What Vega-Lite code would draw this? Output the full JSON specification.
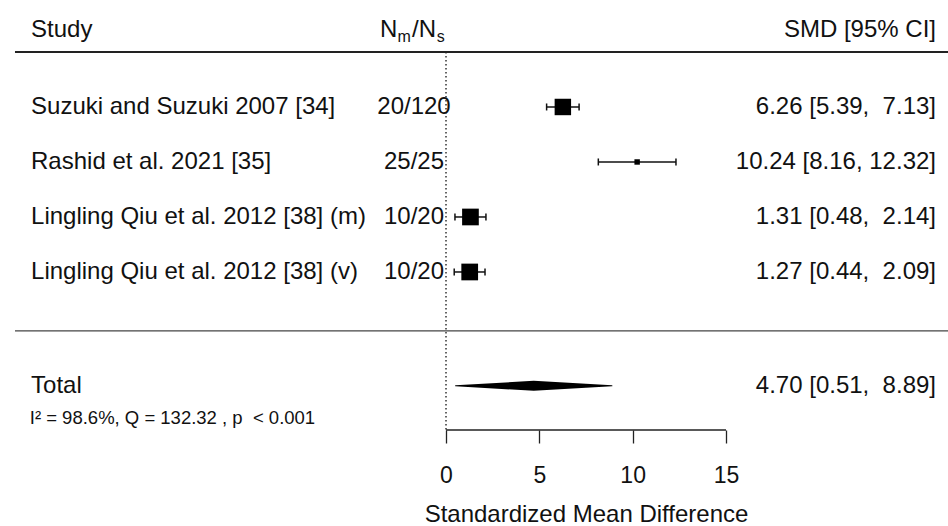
{
  "$schema": "https://vega.github.io/schema/vega-lite/v6.json",
  "width": 948,
  "height": 430,
  "autosize": "none",
  "padding": {"top": 0, "left": 0, "right": 0, "bottom": 96},
  "background": "white",
  "config": {
    "view": {"stroke": null},
    "font": "Liberation Sans",
    "text": {"font": "Liberation Sans", "fontSize": 24, "color": "#111"},
    "axis": {"grid": false},
    "axisX": {"domain": false, "grid": false, "tickSize": 13, "tickWidth": 1.3, "tickColor": "#222",
      "labelFont": "Liberation Sans", "labelFontSize": 23, "labelColor": "#111", "labelPadding": 21, "labelFlush": false,
      "titleFont": "Liberation Sans", "titleFontSize": 24, "titleFontWeight": "normal", "titleColor": "#111", "titlePadding": 15}
  },
  "datasets": {
    "studies": [
      {"study": "Suzuki and Suzuki 2007 [34]", "n": "20/120", "smd": 6.26, "lo": 5.39, "hi": 7.13, "label": "6.26 [5.39, \u00a07.13]", "row": 1, "se": 0.444},
      {"study": "Rashid et al. 2021 [35]", "n": "25/25", "smd": 10.24, "lo": 8.16, "hi": 12.32, "label": "10.24 [8.16, 12.32]", "row": 2, "se": 1.061},
      {"study": "Lingling Qiu et al. 2012 [38] (m)", "n": "10/20", "smd": 1.31, "lo": 0.48, "hi": 2.14, "label": "1.31 [0.48, \u00a02.14]", "row": 3, "se": 0.423},
      {"study": "Lingling Qiu et al. 2012 [38] (v)", "n": "10/20", "smd": 1.27, "lo": 0.44, "hi": 2.09, "label": "1.27 [0.44, \u00a02.09]", "row": 4, "se": 0.421}
    ],
    "total": [
      {"study": "Total", "smd": 4.70, "lo": 0.51, "hi": 8.89, "label": "4.70 [0.51, \u00a08.89]", "het": "I\u00b2 = 98.6%, Q = 132.32 , p \u00a0< 0.001"}
    ],
    "diamond": [
      {"point": "lower", "smd": 0.51},
      {"point": "estimate", "smd": 4.70},
      {"point": "upper", "smd": 8.89}
    ],
    "axisline": [{"start": 0, "end": 15}],
    "one": [{}]
  },
  "layer": [
    {
      "data": {"name": "axisline"},
      "mark": {"type": "rule", "color": "#222", "strokeWidth": 1.3},
      "encoding": {
        "x": {"field": "start", "type": "quantitative", "scale": {"domain": [-23.893, 26.893], "nice": false, "zero": false},
          "axis": {"values": [0, 5, 10, 15], "domain": false, "grid": false, "labelBound": false,
            "title": "Standardized Mean Difference", "titleX": 586}},
        "x2": {"field": "end"},
        "y": {"datum": 6.873, "type": "quantitative", "scale": {"domain": [-0.945, 6.873], "nice": false, "zero": false, "reverse": true}, "axis": null}
      }
    },
    {
      "data": {"name": "one"},
      "mark": {"type": "rule", "color": "#333", "strokeWidth": 1.5, "strokeDash": [1.5, 2.5]},
      "encoding": {
        "x": {"datum": 0, "type": "quantitative"},
        "y": {"datum": 0, "type": "quantitative", "axis": null},
        "y2": {"datum": 6.873}
      }
    },
    {
      "data": {"name": "one"},
      "mark": {"type": "rule", "color": "#222", "strokeWidth": 1.8},
      "encoding": {
        "x": {"datum": -23.09, "type": "quantitative"},
        "x2": {"datum": 26.893},
        "y": {"datum": 0, "type": "quantitative", "axis": null}
      }
    },
    {
      "data": {"name": "one"},
      "mark": {"type": "rule", "color": "#444", "strokeWidth": 1.3},
      "encoding": {
        "x": {"datum": -23.09, "type": "quantitative"},
        "x2": {"datum": 26.893},
        "y": {"datum": 5.07, "type": "quantitative", "axis": null}
      }
    },
    {
      "data": {"name": "one"},
      "mark": {"type": "text", "text": "Study", "align": "left", "baseline": "middle"},
      "encoding": {
        "x": {"datum": -22.23, "type": "quantitative"},
        "y": {"datum": -0.4, "type": "quantitative", "axis": null}
      }
    },
    {
      "data": {"name": "one"},
      "mark": {"type": "text", "text": "SMD [95% CI]", "align": "right", "baseline": "middle"},
      "encoding": {
        "x": {"datum": 26.25, "type": "quantitative"},
        "y": {"datum": -0.4, "type": "quantitative", "axis": null}
      }
    },
    {
      "data": {"name": "one"},
      "mark": {"type": "text", "text": "N", "align": "left", "baseline": "middle"},
      "encoding": {
        "x": {"datum": -3.536, "type": "quantitative"},
        "y": {"datum": -0.4, "type": "quantitative", "axis": null}
      }
    },
    {
      "data": {"name": "one"},
      "mark": {"type": "text", "text": "m", "align": "left", "baseline": "middle", "fontSize": 16, "dy": 7},
      "encoding": {
        "x": {"datum": -2.6, "type": "quantitative"},
        "y": {"datum": -0.4, "type": "quantitative", "axis": null}
      }
    },
    {
      "data": {"name": "one"},
      "mark": {"type": "text", "text": "/N", "align": "left", "baseline": "middle"},
      "encoding": {
        "x": {"datum": -1.82, "type": "quantitative"},
        "y": {"datum": -0.4, "type": "quantitative", "axis": null}
      }
    },
    {
      "data": {"name": "one"},
      "mark": {"type": "text", "text": "s", "align": "left", "baseline": "middle", "fontSize": 16, "dy": 7},
      "encoding": {
        "x": {"datum": -0.5, "type": "quantitative"},
        "y": {"datum": -0.4, "type": "quantitative", "axis": null}
      }
    },
    {
      "data": {"name": "studies"},
      "mark": {"type": "text", "align": "left", "baseline": "middle"},
      "encoding": {
        "x": {"datum": -22.23, "type": "quantitative"},
        "y": {"field": "row", "type": "quantitative", "axis": null},
        "text": {"field": "study"}
      }
    },
    {
      "data": {"name": "studies"},
      "mark": {"type": "text", "align": "center", "baseline": "middle"},
      "encoding": {
        "x": {"datum": -1.714, "type": "quantitative"},
        "y": {"field": "row", "type": "quantitative", "axis": null},
        "text": {"field": "n"}
      }
    },
    {
      "data": {"name": "studies"},
      "mark": {"type": "text", "align": "right", "baseline": "middle"},
      "encoding": {
        "x": {"datum": 26.25, "type": "quantitative"},
        "y": {"field": "row", "type": "quantitative", "axis": null},
        "text": {"field": "label"}
      }
    },
    {
      "data": {"name": "studies"},
      "mark": {"type": "rule", "color": "#111", "strokeWidth": 1.5},
      "encoding": {
        "x": {"field": "lo", "type": "quantitative"},
        "x2": {"field": "hi"},
        "y": {"field": "row", "type": "quantitative", "axis": null}
      }
    },
    {
      "data": {"name": "studies"},
      "mark": {"type": "tick", "orient": "vertical", "color": "#111", "size": 7, "thickness": 1.5, "opacity": 1},
      "encoding": {
        "x": {"field": "lo", "type": "quantitative"},
        "y": {"field": "row", "type": "quantitative", "axis": null}
      }
    },
    {
      "data": {"name": "studies"},
      "mark": {"type": "tick", "orient": "vertical", "color": "#111", "size": 7, "thickness": 1.5, "opacity": 1},
      "encoding": {
        "x": {"field": "hi", "type": "quantitative"},
        "y": {"field": "row", "type": "quantitative", "axis": null}
      }
    },
    {
      "data": {"name": "studies"},
      "mark": {"type": "point", "shape": "square", "filled": true, "color": "black", "opacity": 1},
      "encoding": {
        "x": {"field": "smd", "type": "quantitative"},
        "y": {"field": "row", "type": "quantitative", "axis": null},
        "size": {"field": "se", "type": "quantitative", "scale": {"domain": [0.42, 1.06], "range": [280, 30]}, "legend": null}
      }
    },
    {
      "data": {"name": "diamond"},
      "mark": {"type": "trail", "color": "black"},
      "encoding": {
        "x": {"field": "smd", "type": "quantitative"},
        "y": {"datum": 6.07, "type": "quantitative", "axis": null},
        "order": {"field": "smd"},
        "size": {"field": "point", "type": "ordinal", "scale": {"type": "ordinal", "domain": ["lower", "estimate", "upper"], "range": [0, 10, 0]}, "legend": null}
      }
    },
    {
      "data": {"name": "total"},
      "mark": {"type": "text", "align": "left", "baseline": "middle"},
      "encoding": {
        "x": {"datum": -22.23, "type": "quantitative"},
        "y": {"datum": 6.07, "type": "quantitative", "axis": null},
        "text": {"field": "study"}
      }
    },
    {
      "data": {"name": "total"},
      "mark": {"type": "text", "align": "right", "baseline": "middle"},
      "encoding": {
        "x": {"datum": 26.25, "type": "quantitative"},
        "y": {"datum": 6.07, "type": "quantitative", "axis": null},
        "text": {"field": "label"}
      }
    },
    {
      "data": {"name": "total"},
      "mark": {"type": "text", "align": "left", "baseline": "middle", "fontSize": 18.5},
      "encoding": {
        "x": {"datum": -22.3, "type": "quantitative"},
        "y": {"datum": 6.66, "type": "quantitative", "axis": null},
        "text": {"field": "het"}
      }
    }
  ]
}
